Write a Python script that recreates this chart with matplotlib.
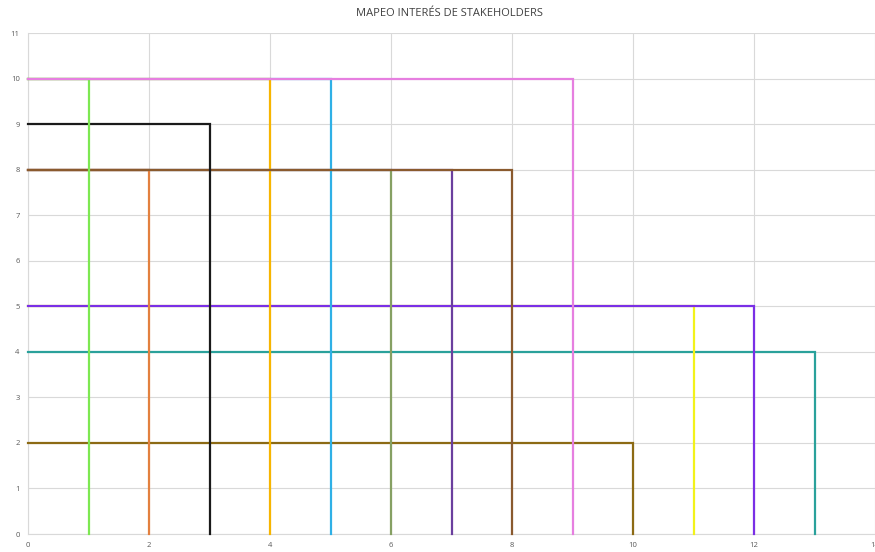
import matplotlib
matplotlib.use("Agg")
import matplotlib.pyplot as plt

title = "MAPEO INTERÉS DE STAKEHOLDERS"
# each stakeholder: (x value, y value, colour)
x_vals = [9, 1, 3, 8, 2, 4, 5, 6, 7, 12, 11, 13, 10]
y_vals = [10, 10, 9, 8, 8, 10, 10, 8, 8, 5, 5, 4, 2]
colors = ["#e67fe0", "#7de852", "#1a1a1a", "#8a5a2e", "#e3803f", "#f7b500",
          "#2fb0e6", "#86a063", "#6b3f9e", "#7a2fe6", "#f2f21a", "#2aa19b", "#8c6a14"]
x_ticks = [0, 2, 4, 6, 8, 10, 12, 14]
y_ticks = list(range(0, 12))

plt.rcParams['font.family'] = ['Open Sans', 'DejaVu Sans']
fig = plt.figure(figsize=(8.75, 5.52), dpi=100)
ax = fig.add_axes([0.032, 0.0326, 0.968, 0.9076])

order = [12, 11, 10, 9, 8, 7, 6, 5, 4, 3, 2, 1, 0]
for i in order:
    x, y, c = x_vals[i], y_vals[i], colors[i]
    lw = 1.6
    ax.plot([0, x, x], [y, y, 0], color=c, lw=lw, solid_joinstyle='miter', zorder=3, clip_on=False)

ax.set_xlim(0, 14)
ax.set_ylim(0, 11)
ax.set_xticks(x_ticks)
ax.set_yticks(y_ticks)
ax.grid(True, color="#d9d9d9", lw=0.8, zorder=0)
ax.set_axisbelow(True)
for s in ax.spines.values():
    s.set_visible(False)
ax.spines['left'].set_visible(True)
ax.spines['left'].set_color("#d9d9d9")
ax.spines['bottom'].set_visible(True)
ax.spines['bottom'].set_color("#d9d9d9")
ax.tick_params(length=0, labelsize=5.5, labelcolor="#595959", pad=6)
fig.text(0.514, 0.975, title, ha='center', va='center', fontsize=8, color="#404040")
fig.savefig("out.png", dpi=100)
